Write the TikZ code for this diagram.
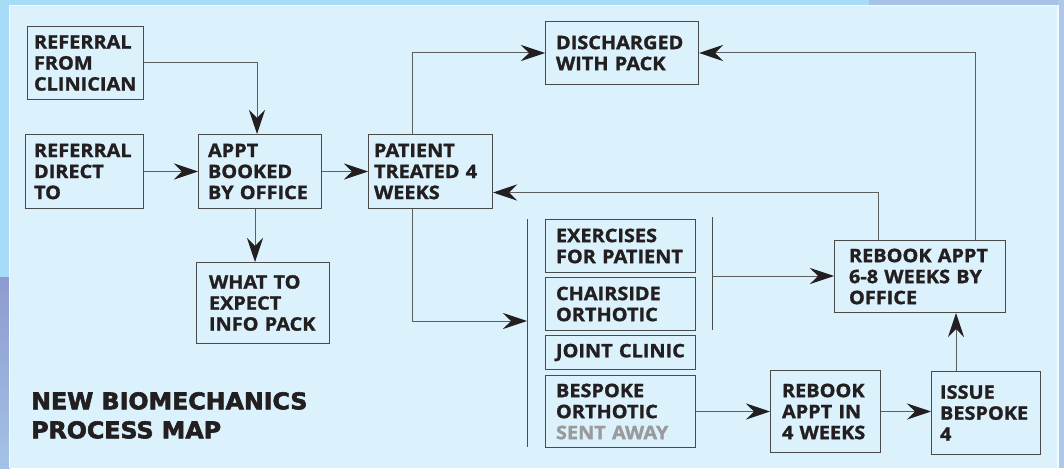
\documentclass[tikz,border=0pt]{standalone}
\usepackage{fontspec}
\setmainfont{Open Sans}[BoldFont={Open Sans Bold}, BoldFeatures={FakeBold=1.3, FakeStretch=1.07}]
\newfontfamily\titlefont{DejaVu Sans}[BoldFont={DejaVu Sans Bold}, BoldFeatures={FakeBold=2.6, FakeStretch=1.03}]
\usetikzlibrary{arrows.meta,calc}
\definecolor{outerblue}{HTML}{A6DCF8}
\definecolor{panelblue}{HTML}{DBF1FC}
\definecolor{stripA}{HTML}{8E9AD0}
\definecolor{stripB}{HTML}{A3C2E6}
\definecolor{bandblue}{HTML}{A6C2E6}
\definecolor{inkc}{HTML}{231F20}
\definecolor{linec}{HTML}{5E5E5E}
\definecolor{boxline}{HTML}{4A4A4A}
\definecolor{greytext}{HTML}{9A9A9A}
\tikzset{
  pbox/.style={draw=boxline, line width=1pt, anchor=north west, align=left,
    font=\bfseries\fontsize{18.6}{21}\selectfont, text=inkc, inner ysep=0pt},
  conn/.style={draw=linec, line width=1pt},
  arr/.style={conn, -{Stealth[length=24pt, width=16pt, inset=8pt, fill=inkc, color=inkc]}},
  brk/.style={draw=inkc!80, line width=1pt},
}
\newcommand{\bx}[7]{% name, x, y, w, h, pad, text
  \node[pbox, minimum width=#4pt, minimum height=#5pt, inner xsep=#6pt,
        text width=#4pt-2*#6pt-1pt] (#1) at (#2,#3) {#7};}
\begin{document}
\begin{tikzpicture}[x=1pt,y=-1pt]
\useasboundingbox (0,0) rectangle (1064,468);
% background
\fill[outerblue] (0,0) rectangle (1064,468);
\fill[bandblue] (869,0) rectangle (1064,6);
\shade[top color=stripA, bottom color=stripB] (0,277) rectangle (10,468);
\fill[bandblue!90!white] (1058,0) rectangle (1064,468);
\fill[white!70!panelblue] (9,5) rectangle (1059,468);
\fill[panelblue] (10,6) rectangle (1057,468);

% boxes
\bx{clin}{27}{26}{116}{73}{6}{REFERRAL\\FROM\\CLINICIAN}
\bx{direct}{25}{134}{118}{74}{8}{REFERRAL\\DIRECT\\TO}
\bx{appt}{198}{134}{123}{74}{9}{APPT\\BOOKED\\BY OFFICE}
\bx{patient}{368}{134}{124}{74}{5}{PATIENT\\TREATED 4\\WEEKS}
\bx{info}{196}{262}{133}{81}{12}{WHAT TO\\EXPECT\\INFO PACK}
\bx{disch}{545}{21}{153}{63}{10}{DISCHARGED\\WITH PACK}
\bx{exer}{545}{219}{150}{53}{10}{EXERCISES\\FOR PATIENT}
\bx{chair}{545}{277}{150}{53}{10}{CHAIRSIDE\\ORTHOTIC}
\bx{joint}{545}{335}{150}{34}{10}{\mbox{JOINT CLINIC}}
\bx{besp}{545}{375}{150}{72}{10}{BESPOKE\\ORTHOTIC\\\textcolor{greytext}{SENT AWAY}}
\bx{reb68}{834}{240}{171}{72}{14}{REBOOK APPT\\6-8 WEEKS BY\\OFFICE}
\bx{reb4}{770}{370}{110}{82}{11}{REBOOK\\APPT IN\\4 WEEKS}
\bx{issue}{931}{371}{109}{83}{8}{ISSUE\\BESPOKE\\4}

% title
\node[anchor=north west, align=left, inner sep=0pt, text=inkc,
      font=\titlefont\bfseries\fontsize{23}{29}\selectfont] (title) at (31,392)
  {NEW BIOMECHANICS\\PROCESS MAP};

% brackets
\coordinate (brLt) at (527,219);
\coordinate (brLb) at (527,447);
\coordinate (brRt) at (712,217);
\coordinate (brRb) at (712,330);
\coordinate (brRm) at (712,276);
\coordinate (brLm) at (527,321);
\draw[brk] (brLt) -- (brLb);
\draw[brk] (brRt) -- (brRb);

% connectors
\draw[arr] (clin.east) -| ([xshift=-3pt]appt.north);
\draw[arr] (direct.east) -- (appt.west);
\draw[arr] (appt.east) -- (patient.west);
\draw[arr] ([xshift=-5pt]appt.south) -- ([xshift=-5pt]appt.south |- info.north);
\draw[arr] ([xshift=-18pt]patient.north) |- (disch.west);
\draw[arr] ([xshift=-18pt]patient.south) |- (brLm);
\draw[arr] (brRm) -- (brRm -| reb68.west);
\draw[arr] (besp.east) -- (besp.east -| reb4.west);
\draw[arr] (reb4.east) -- (reb4.east -| issue.west);
\draw[arr] ([xshift=-30pt]issue.north) -- ([xshift=-30pt]issue.north |- reb68.south);
\coordinate (upA) at (878,240);
\coordinate (upB) at (975,240);
\draw[arr] (upA) |- ([yshift=-21pt]patient.east);
\draw[arr] (upB) |- (disch.east);
\end{tikzpicture}
\end{document}
